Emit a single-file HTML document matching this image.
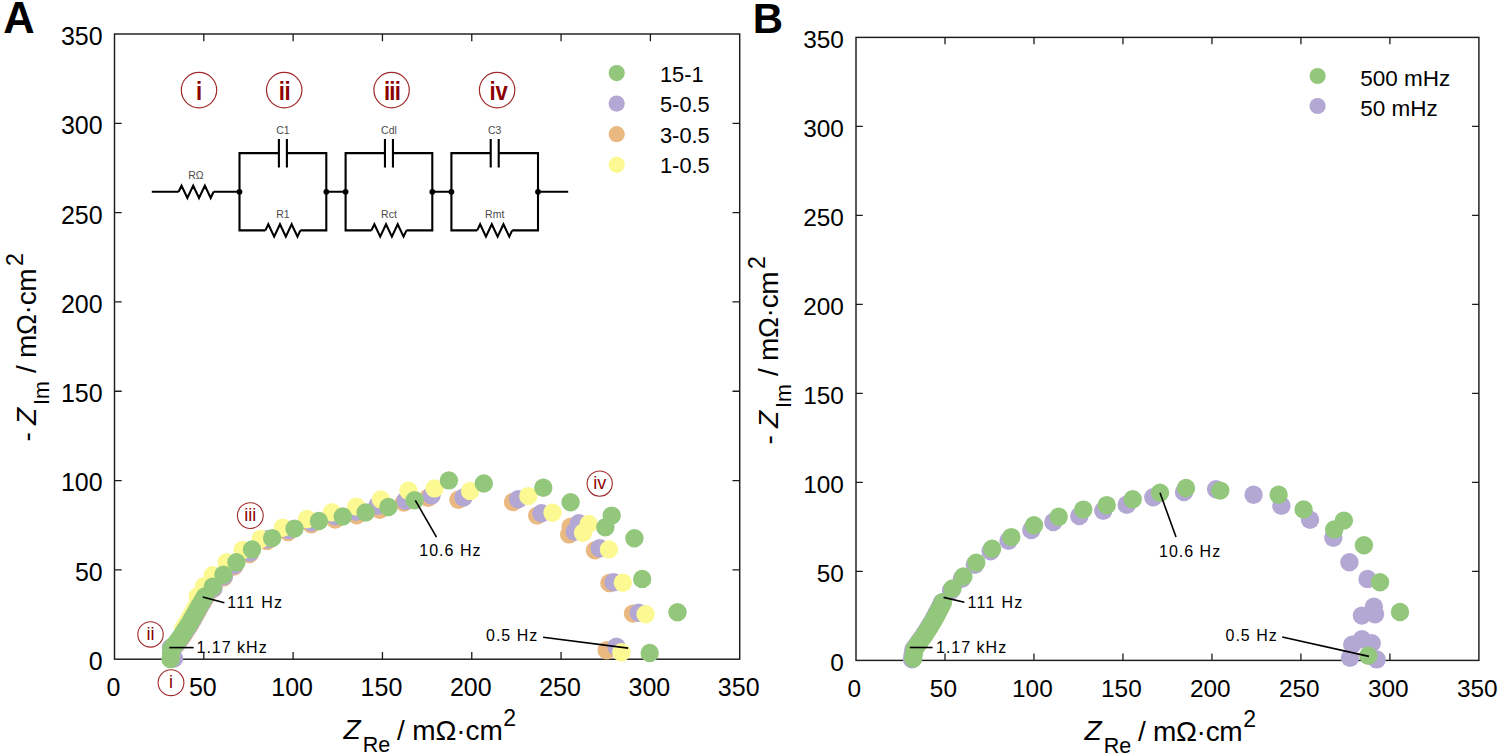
<!DOCTYPE html>
<html><head><meta charset="utf-8"><style>
html,body{margin:0;padding:0;background:#fff;}
svg{display:block;}
text{font-family:'Liberation Sans', sans-serif;}
</style></head><body>
<svg width="1500" height="756" viewBox="0 0 1500 756">
<rect width="1500" height="756" fill="#fff"/>
<rect x="114.5" y="34.0" width="625.2" height="625.2" fill="none" stroke="#1c1c1c" stroke-width="1.45"/>
<path d="M203.81 659.2V652.0M203.81 34.0V41.2M114.5 569.89H121.7M739.7 569.89H732.5" stroke="#1c1c1c" stroke-width="1.3"/>
<path d="M293.13 659.2V652.0M293.13 34.0V41.2M114.5 480.57H121.7M739.7 480.57H732.5" stroke="#1c1c1c" stroke-width="1.3"/>
<path d="M382.44 659.2V652.0M382.44 34.0V41.2M114.5 391.26H121.7M739.7 391.26H732.5" stroke="#1c1c1c" stroke-width="1.3"/>
<path d="M471.76 659.2V652.0M471.76 34.0V41.2M114.5 301.94H121.7M739.7 301.94H732.5" stroke="#1c1c1c" stroke-width="1.3"/>
<path d="M561.07 659.2V652.0M561.07 34.0V41.2M114.5 212.63H121.7M739.7 212.63H732.5" stroke="#1c1c1c" stroke-width="1.3"/>
<path d="M650.39 659.2V652.0M650.39 34.0V41.2M114.5 123.31H121.7M739.7 123.31H732.5" stroke="#1c1c1c" stroke-width="1.3"/>
<rect x="856.0" y="37.4" width="622.9000000000001" height="623.0" fill="none" stroke="#1c1c1c" stroke-width="1.45"/>
<path d="M944.99 660.4V653.6M944.99 37.4V44.199999999999996M856.0 571.40H862.8M1478.9 571.40H1472.1000000000001" stroke="#1c1c1c" stroke-width="1.3"/>
<path d="M1033.97 660.4V653.6M1033.97 37.4V44.199999999999996M856.0 482.40H862.8M1478.9 482.40H1472.1000000000001" stroke="#1c1c1c" stroke-width="1.3"/>
<path d="M1122.96 660.4V653.6M1122.96 37.4V44.199999999999996M856.0 393.40H862.8M1478.9 393.40H1472.1000000000001" stroke="#1c1c1c" stroke-width="1.3"/>
<path d="M1211.94 660.4V653.6M1211.94 37.4V44.199999999999996M856.0 304.40H862.8M1478.9 304.40H1472.1000000000001" stroke="#1c1c1c" stroke-width="1.3"/>
<path d="M1300.93 660.4V653.6M1300.93 37.4V44.199999999999996M856.0 215.40H862.8M1478.9 215.40H1472.1000000000001" stroke="#1c1c1c" stroke-width="1.3"/>
<path d="M1389.91 660.4V653.6M1389.91 37.4V44.199999999999996M856.0 126.40H862.8M1478.9 126.40H1472.1000000000001" stroke="#1c1c1c" stroke-width="1.3"/>
<text x="113.50" y="695.6" font-size="25" text-anchor="middle">0</text>
<text x="102.7" y="670.10" font-size="25" text-anchor="end">0</text>
<text x="202.81" y="695.6" font-size="25" text-anchor="middle">50</text>
<text x="102.7" y="580.79" font-size="25" text-anchor="end">50</text>
<text x="292.13" y="695.6" font-size="25" text-anchor="middle">100</text>
<text x="102.7" y="491.47" font-size="25" text-anchor="end">100</text>
<text x="381.44" y="695.6" font-size="25" text-anchor="middle">150</text>
<text x="102.7" y="402.16" font-size="25" text-anchor="end">150</text>
<text x="470.76" y="695.6" font-size="25" text-anchor="middle">200</text>
<text x="102.7" y="312.84" font-size="25" text-anchor="end">200</text>
<text x="560.07" y="695.6" font-size="25" text-anchor="middle">250</text>
<text x="102.7" y="223.53" font-size="25" text-anchor="end">250</text>
<text x="649.39" y="695.6" font-size="25" text-anchor="middle">300</text>
<text x="102.7" y="134.21" font-size="25" text-anchor="end">300</text>
<text x="738.70" y="695.6" font-size="25" text-anchor="middle">350</text>
<text x="102.7" y="44.90" font-size="25" text-anchor="end">350</text>
<text x="854.40" y="696.6" font-size="24.4" text-anchor="middle">0</text>
<text x="843.9" y="670.80" font-size="24.4" text-anchor="end">0</text>
<text x="943.39" y="696.6" font-size="24.4" text-anchor="middle">50</text>
<text x="843.9" y="581.80" font-size="24.4" text-anchor="end">50</text>
<text x="1032.37" y="696.6" font-size="24.4" text-anchor="middle">100</text>
<text x="843.9" y="492.80" font-size="24.4" text-anchor="end">100</text>
<text x="1121.36" y="696.6" font-size="24.4" text-anchor="middle">150</text>
<text x="843.9" y="403.80" font-size="24.4" text-anchor="end">150</text>
<text x="1210.34" y="696.6" font-size="24.4" text-anchor="middle">200</text>
<text x="843.9" y="314.80" font-size="24.4" text-anchor="end">200</text>
<text x="1299.33" y="696.6" font-size="24.4" text-anchor="middle">250</text>
<text x="843.9" y="225.80" font-size="24.4" text-anchor="end">250</text>
<text x="1388.31" y="696.6" font-size="24.4" text-anchor="middle">300</text>
<text x="843.9" y="136.80" font-size="24.4" text-anchor="end">300</text>
<text x="1477.30" y="696.6" font-size="24.4" text-anchor="middle">350</text>
<text x="843.9" y="47.80" font-size="24.4" text-anchor="end">350</text>
<text x="3.2" y="33.2" font-size="43.5" font-weight="bold">A</text>
<text x="752.8" y="32.5" font-size="42" font-weight="bold">B</text>
<text x="343.5" y="739.4" font-size="28" font-style="italic">Z</text>
<text x="362.7" y="752.1999999999999" font-size="21.5">Re</text>
<text x="397.0" y="740.0" font-size="28" letter-spacing="-0.12">/ mΩ·cm</text>
<text x="503.3" y="726.1999999999999" font-size="23">2</text>
<text x="1084.5" y="740.4" font-size="28" font-style="italic">Z</text>
<text x="1103.7" y="753.1999999999999" font-size="21.5">Re</text>
<text x="1138.0" y="741.0" font-size="28" letter-spacing="-0.3">/ mΩ·cm</text>
<text x="1243.3" y="727.1999999999999" font-size="23">2</text>
<g transform="translate(36.2 441.5) rotate(-90)"><text x="0" y="0" font-size="28">-</text><text x="16.5" y="0" font-size="28" font-style="italic">Z</text><text x="36.6" y="12.7" font-size="21.5">Im</text><text x="68.5" y="0" font-size="28" letter-spacing="-0.3">/ mΩ·cm</text><text x="175.5" y="-13.2" font-size="23">2</text></g>
<g transform="translate(778.2 444.5) rotate(-90)"><text x="0" y="0" font-size="28">-</text><text x="16.5" y="0" font-size="28" font-style="italic">Z</text><text x="36.6" y="12.7" font-size="21.5">Im</text><text x="68.5" y="0" font-size="28" letter-spacing="-0.3">/ mΩ·cm</text><text x="175.5" y="-13.2" font-size="23">2</text></g>
<g fill="#eab982"><circle cx="174.5" cy="646.7" r="9.2"/><circle cx="177.0" cy="643.7" r="9.2"/><circle cx="179.2" cy="640.7" r="9.2"/><circle cx="181.5" cy="637.7" r="9.2"/><circle cx="183.8" cy="634.2" r="9.2"/><circle cx="186.0" cy="630.7" r="9.2"/><circle cx="188.2" cy="627.4" r="9.2"/><circle cx="190.4" cy="624.0" r="9.2"/><circle cx="192.7" cy="619.9" r="9.2"/><circle cx="195.0" cy="615.7" r="9.2"/><circle cx="197.5" cy="611.2" r="9.2"/><circle cx="200.0" cy="606.7" r="9.2"/><circle cx="202.7" cy="602.2" r="9.2"/><circle cx="205.4" cy="597.7" r="9.2"/><circle cx="213.0" cy="589.0" r="9.2"/><circle cx="223.5" cy="577.5" r="9.2"/><circle cx="234.0" cy="566.5" r="9.2"/><circle cx="249.5" cy="554.0" r="9.2"/><circle cx="266.9" cy="540.9" r="9.2"/><circle cx="288.0" cy="532.0" r="9.2"/><circle cx="311.3" cy="524.2" r="9.2"/><circle cx="335.2" cy="519.5" r="9.2"/><circle cx="356.7" cy="515.3" r="9.2"/><circle cx="379.7" cy="509.8" r="9.2"/><circle cx="404.0" cy="502.6" r="9.2"/><circle cx="428.2" cy="497.7" r="9.2"/><circle cx="458.4" cy="499.8" r="9.2"/><circle cx="513.0" cy="502.1" r="9.2"/><circle cx="537.2" cy="515.6" r="9.2"/><circle cx="570.6" cy="526.7" r="9.2"/><circle cx="569.2" cy="534.4" r="9.2"/><circle cx="595.0" cy="550.3" r="9.2"/><circle cx="609.4" cy="583.0" r="9.2"/><circle cx="633.0" cy="613.6" r="9.2"/><circle cx="606.7" cy="650.3" r="9.2"/></g>
<g fill="#b3a8d3"><circle cx="174.0" cy="658.5" r="9.2"/><circle cx="171.0" cy="647.5" r="9.2"/><circle cx="174.3" cy="646.3" r="9.2"/><circle cx="176.8" cy="643.3" r="9.2"/><circle cx="179.1" cy="640.3" r="9.2"/><circle cx="181.3" cy="637.3" r="9.2"/><circle cx="183.6" cy="633.8" r="9.2"/><circle cx="185.8" cy="630.3" r="9.2"/><circle cx="188.0" cy="626.9" r="9.2"/><circle cx="190.2" cy="623.6" r="9.2"/><circle cx="192.5" cy="619.4" r="9.2"/><circle cx="194.8" cy="615.3" r="9.2"/><circle cx="197.3" cy="610.8" r="9.2"/><circle cx="199.8" cy="606.3" r="9.2"/><circle cx="202.5" cy="601.8" r="9.2"/><circle cx="205.2" cy="597.3" r="9.2"/><circle cx="213.5" cy="588.0" r="9.2"/><circle cx="224.0" cy="576.0" r="9.2"/><circle cx="234.5" cy="565.0" r="9.2"/><circle cx="250.0" cy="552.5" r="9.2"/><circle cx="267.5" cy="539.3" r="9.2"/><circle cx="288.5" cy="530.0" r="9.2"/><circle cx="311.5" cy="522.2" r="9.2"/><circle cx="335.5" cy="516.3" r="9.2"/><circle cx="355.9" cy="511.8" r="9.2"/><circle cx="377.3" cy="505.8" r="9.2"/><circle cx="405.5" cy="500.7" r="9.2"/><circle cx="431.5" cy="495.5" r="9.2"/><circle cx="463.5" cy="497.5" r="9.2"/><circle cx="518.2" cy="499.3" r="9.2"/><circle cx="541.4" cy="513.3" r="9.2"/><circle cx="578.9" cy="523.3" r="9.2"/><circle cx="574.7" cy="531.7" r="9.2"/><circle cx="599.7" cy="548.3" r="9.2"/><circle cx="613.6" cy="582.2" r="9.2"/><circle cx="638.6" cy="612.8" r="9.2"/><circle cx="616.4" cy="646.7" r="9.2"/></g>
<g fill="#fdf992"><circle cx="183.3" cy="628.5" r="9.2"/><circle cx="185.5" cy="625.1" r="9.2"/><circle cx="187.7" cy="621.8" r="9.2"/><circle cx="190.0" cy="617.6" r="9.2"/><circle cx="192.3" cy="613.5" r="9.2"/><circle cx="194.8" cy="609.0" r="9.2"/><circle cx="197.3" cy="604.5" r="9.2"/><circle cx="197.8" cy="596.2" r="9.2"/><circle cx="204.0" cy="586.3" r="9.2"/><circle cx="212.8" cy="575.2" r="9.2"/><circle cx="226.7" cy="562.2" r="9.2"/><circle cx="242.5" cy="550.0" r="9.2"/><circle cx="260.6" cy="538.9" r="9.2"/><circle cx="282.8" cy="527.8" r="9.2"/><circle cx="307.0" cy="519.0" r="9.2"/><circle cx="332.0" cy="512.3" r="9.2"/><circle cx="356.3" cy="506.6" r="9.2"/><circle cx="380.9" cy="499.4" r="9.2"/><circle cx="408.4" cy="490.7" r="9.2"/><circle cx="434.5" cy="488.4" r="9.2"/><circle cx="470.1" cy="490.9" r="9.2"/><circle cx="528.3" cy="496.1" r="9.2"/><circle cx="552.5" cy="512.8" r="9.2"/><circle cx="588.6" cy="523.9" r="9.2"/><circle cx="583.0" cy="532.8" r="9.2"/><circle cx="608.9" cy="549.4" r="9.2"/><circle cx="622.8" cy="582.8" r="9.2"/><circle cx="645.6" cy="614.2" r="9.2"/><circle cx="621.4" cy="652.3" r="9.2"/></g>
<g fill="#93c77b"><circle cx="170.5" cy="659.0" r="9.2"/><circle cx="171.0" cy="653.8" r="9.2"/><circle cx="171.5" cy="648.5" r="9.2"/><circle cx="174.0" cy="645.5" r="9.2"/><circle cx="176.5" cy="642.5" r="9.2"/><circle cx="178.8" cy="639.5" r="9.2"/><circle cx="181.0" cy="636.5" r="9.2"/><circle cx="183.2" cy="633.0" r="9.2"/><circle cx="185.5" cy="629.5" r="9.2"/><circle cx="187.7" cy="626.1" r="9.2"/><circle cx="189.9" cy="622.8" r="9.2"/><circle cx="192.2" cy="618.6" r="9.2"/><circle cx="194.5" cy="614.5" r="9.2"/><circle cx="197.0" cy="610.0" r="9.2"/><circle cx="199.5" cy="605.5" r="9.2"/><circle cx="202.2" cy="601.0" r="9.2"/><circle cx="204.9" cy="596.5" r="9.2"/><circle cx="212.8" cy="586.8" r="9.2"/><circle cx="223.4" cy="574.7" r="9.2"/><circle cx="236.4" cy="562.2" r="9.2"/><circle cx="252.0" cy="549.4" r="9.2"/><circle cx="272.1" cy="538.1" r="9.2"/><circle cx="294.5" cy="528.6" r="9.2"/><circle cx="318.9" cy="521.0" r="9.2"/><circle cx="342.7" cy="516.5" r="9.2"/><circle cx="365.6" cy="512.5" r="9.2"/><circle cx="388.4" cy="507.0" r="9.2"/><circle cx="414.6" cy="500.2" r="9.2"/><circle cx="448.9" cy="480.4" r="9.2"/><circle cx="483.8" cy="483.5" r="9.2"/><circle cx="543.3" cy="487.8" r="9.2"/><circle cx="570.6" cy="502.2" r="9.2"/><circle cx="611.7" cy="515.6" r="9.2"/><circle cx="605.3" cy="527.2" r="9.2"/><circle cx="634.4" cy="538.3" r="9.2"/><circle cx="642.2" cy="578.9" r="9.2"/><circle cx="677.5" cy="612.2" r="9.2"/><circle cx="649.7" cy="653.0" r="9.2"/></g>
<g fill="#b3a8d3"><circle cx="912.0" cy="659.3" r="9.2"/><circle cx="912.6" cy="654.5" r="9.2"/><circle cx="913.3" cy="649.8" r="9.2"/><circle cx="915.8" cy="646.3" r="9.2"/><circle cx="918.3" cy="642.8" r="9.2"/><circle cx="920.8" cy="639.3" r="9.2"/><circle cx="923.3" cy="635.8" r="9.2"/><circle cx="925.5" cy="632.3" r="9.2"/><circle cx="927.8" cy="628.8" r="9.2"/><circle cx="929.8" cy="625.5" r="9.2"/><circle cx="931.8" cy="622.3" r="9.2"/><circle cx="933.5" cy="619.0" r="9.2"/><circle cx="935.3" cy="615.8" r="9.2"/><circle cx="937.0" cy="612.5" r="9.2"/><circle cx="938.8" cy="609.3" r="9.2"/><circle cx="940.3" cy="606.0" r="9.2"/><circle cx="941.8" cy="602.8" r="9.2"/><circle cx="951.0" cy="590.6" r="9.2"/><circle cx="961.9" cy="578.7" r="9.2"/><circle cx="974.8" cy="564.8" r="9.2"/><circle cx="990.6" cy="551.3" r="9.2"/><circle cx="1008.5" cy="540.8" r="9.2"/><circle cx="1031.3" cy="530.0" r="9.2"/><circle cx="1053.3" cy="522.0" r="9.2"/><circle cx="1079.3" cy="516.0" r="9.2"/><circle cx="1103.3" cy="510.7" r="9.2"/><circle cx="1126.7" cy="504.7" r="9.2"/><circle cx="1153.3" cy="497.3" r="9.2"/><circle cx="1184.0" cy="492.0" r="9.2"/><circle cx="1216.1" cy="489.2" r="9.2"/><circle cx="1253.6" cy="494.7" r="9.2"/><circle cx="1281.4" cy="505.8" r="9.2"/><circle cx="1310.0" cy="519.7" r="9.2"/><circle cx="1333.3" cy="537.8" r="9.2"/><circle cx="1349.4" cy="562.2" r="9.2"/><circle cx="1367.5" cy="578.9" r="9.2"/><circle cx="1373.9" cy="606.7" r="9.2"/><circle cx="1375.0" cy="614.2" r="9.2"/><circle cx="1361.9" cy="615.6" r="9.2"/><circle cx="1361.9" cy="639.2" r="9.2"/><circle cx="1352.2" cy="644.7" r="9.2"/><circle cx="1371.7" cy="643.3" r="9.2"/><circle cx="1350.0" cy="657.8" r="9.2"/><circle cx="1376.7" cy="659.4" r="9.2"/></g>
<g fill="#93c77b"><circle cx="913.2" cy="658.5" r="9.2"/><circle cx="913.9" cy="653.8" r="9.2"/><circle cx="914.5" cy="649.0" r="9.2"/><circle cx="917.0" cy="645.5" r="9.2"/><circle cx="919.5" cy="642.0" r="9.2"/><circle cx="922.0" cy="638.5" r="9.2"/><circle cx="924.5" cy="635.0" r="9.2"/><circle cx="926.8" cy="631.5" r="9.2"/><circle cx="929.0" cy="628.0" r="9.2"/><circle cx="931.0" cy="624.8" r="9.2"/><circle cx="933.0" cy="621.5" r="9.2"/><circle cx="934.8" cy="618.2" r="9.2"/><circle cx="936.5" cy="615.0" r="9.2"/><circle cx="938.2" cy="611.8" r="9.2"/><circle cx="940.0" cy="608.5" r="9.2"/><circle cx="941.5" cy="605.2" r="9.2"/><circle cx="943.0" cy="602.0" r="9.2"/><circle cx="952.5" cy="588.4" r="9.2"/><circle cx="963.4" cy="576.5" r="9.2"/><circle cx="976.3" cy="562.6" r="9.2"/><circle cx="992.1" cy="548.8" r="9.2"/><circle cx="1011.3" cy="537.1" r="9.2"/><circle cx="1034.0" cy="525.3" r="9.2"/><circle cx="1058.7" cy="516.7" r="9.2"/><circle cx="1083.3" cy="509.6" r="9.2"/><circle cx="1106.7" cy="505.1" r="9.2"/><circle cx="1132.7" cy="499.3" r="9.2"/><circle cx="1160.0" cy="492.7" r="9.2"/><circle cx="1186.0" cy="488.0" r="9.2"/><circle cx="1220.3" cy="490.6" r="9.2"/><circle cx="1278.6" cy="494.7" r="9.2"/><circle cx="1303.6" cy="509.4" r="9.2"/><circle cx="1343.9" cy="520.6" r="9.2"/><circle cx="1334.2" cy="529.4" r="9.2"/><circle cx="1363.9" cy="545.3" r="9.2"/><circle cx="1380.0" cy="582.2" r="9.2"/><circle cx="1400.0" cy="612.0" r="9.2"/><circle cx="1368.3" cy="655.8" r="9.2"/></g>
<path d="M169.3 647.6L193.6 647.6" stroke="#000" stroke-width="1.6"/>
<text x="196.5" y="653" font-size="16" letter-spacing="1" text-anchor="start">1.17 kHz</text>
<path d="M202.7 596.9L224.4 602.8" stroke="#000" stroke-width="1.6"/>
<text x="227.2" y="608" font-size="16" letter-spacing="1.3" text-anchor="start">111 Hz</text>
<path d="M415.3 500.3L436.5 537.1" stroke="#000" stroke-width="1.6"/>
<text x="419.3" y="556.2" font-size="16" letter-spacing="1" text-anchor="start">10.6 Hz</text>
<path d="M628.2 648.1L543.1 637.2" stroke="#000" stroke-width="1.6"/>
<text x="486" y="641.2" font-size="16" letter-spacing="1" text-anchor="start">0.5 Hz</text>
<path d="M909.8 647.5L932.6 647.5" stroke="#000" stroke-width="1.6"/>
<text x="936" y="653" font-size="16" letter-spacing="1" text-anchor="start">1.17 kHz</text>
<path d="M943.6 597.4L964.4 602.3" stroke="#000" stroke-width="1.6"/>
<text x="967.5" y="608" font-size="16" letter-spacing="1.3" text-anchor="start">111 Hz</text>
<path d="M1160 492.7L1176 537" stroke="#000" stroke-width="1.6"/>
<text x="1159" y="557" font-size="16" letter-spacing="1" text-anchor="start">10.6 Hz</text>
<path d="M1368.9 656.4L1282.2 637" stroke="#000" stroke-width="1.6"/>
<text x="1225.5" y="641" font-size="16" letter-spacing="1" text-anchor="start">0.5 Hz</text>
<circle cx="199" cy="90.1" r="17.7" fill="none" stroke="#a02a2a" stroke-width="1.2"/>
<text transform="translate(199 0) scale(0.85 1)" x="0.00" y="100.2" font-size="26" font-weight="bold" fill="#8b0000" text-anchor="middle" letter-spacing="0">i</text>
<circle cx="284.2" cy="90.1" r="17.7" fill="none" stroke="#a02a2a" stroke-width="1.2"/>
<text transform="translate(284.2 0) scale(0.85 1)" x="0.25" y="100.2" font-size="26" font-weight="bold" fill="#8b0000" text-anchor="middle" letter-spacing="-0.5">ii</text>
<circle cx="391.6" cy="90.1" r="17.7" fill="none" stroke="#a02a2a" stroke-width="1.2"/>
<text transform="translate(391.6 0) scale(0.85 1)" x="0.45" y="100.2" font-size="26" font-weight="bold" fill="#8b0000" text-anchor="middle" letter-spacing="-0.9">iii</text>
<circle cx="497.1" cy="90.1" r="17.7" fill="none" stroke="#a02a2a" stroke-width="1.2"/>
<text transform="translate(497.1 0) scale(0.85 1)" x="1.80" y="100.2" font-size="26" font-weight="bold" fill="#8b0000" text-anchor="middle" letter-spacing="0">iv</text>
<circle cx="171" cy="682.7" r="12.9" fill="none" stroke="#a02a2a" stroke-width="1.1"/>
<text x="171" y="688.3" font-size="18" font-weight="normal" fill="#8b0000" text-anchor="middle">i</text>
<circle cx="150.5" cy="634.4" r="12.7" fill="none" stroke="#a02a2a" stroke-width="1.1"/>
<text x="150.5" y="640.0" font-size="18" font-weight="normal" fill="#8b0000" text-anchor="middle">ii</text>
<circle cx="250.3" cy="515.6" r="12.9" fill="none" stroke="#a02a2a" stroke-width="1.1"/>
<text x="250.3" y="521.2" font-size="18" font-weight="normal" fill="#8b0000" text-anchor="middle">iii</text>
<circle cx="599.7" cy="483.6" r="12.6" fill="none" stroke="#a02a2a" stroke-width="1.1"/>
<text x="599.7" y="489.2" font-size="18" font-weight="normal" fill="#8b0000" text-anchor="middle">iv</text>
<text x="282.9" y="134.3" font-size="10.5" fill="#4a4a4a" text-anchor="middle">C1</text>
<text x="282.9" y="217.5" font-size="10.5" fill="#4a4a4a" text-anchor="middle">R1</text>
<text x="388.95000000000005" y="134.3" font-size="10.5" fill="#4a4a4a" text-anchor="middle">Cdl</text>
<text x="388.95000000000005" y="217.5" font-size="10.5" fill="#4a4a4a" text-anchor="middle">Rct</text>
<text x="494.7" y="134.3" font-size="10.5" fill="#4a4a4a" text-anchor="middle">C3</text>
<text x="494.7" y="217.5" font-size="10.5" fill="#4a4a4a" text-anchor="middle">Rmt</text>
<path d="M151.8 191.8H178.6 M178.60 191.80 L181.52 185.60 L187.35 198.00 L193.18 185.60 L199.02 198.00 L204.85 185.60 L210.68 198.00 L213.60 191.80 M213.6 191.8H239.5 M278.9 153.1H239.5V230.4H265.4 M265.40 230.40 L268.32 224.20 L274.15 236.60 L279.98 224.20 L285.82 236.60 L291.65 224.20 L297.48 236.60 L300.40 230.40 M300.4 230.4H326.3V153.1H286.9 M278.9 139V167.5M286.9 139V167.5 M326.3 191.8H345.6 M384.95000000000005 153.1H345.6V230.4H371.45000000000005 M371.45 230.40 L374.37 224.20 L380.20 236.60 L386.03 224.20 L391.87 236.60 L397.70 224.20 L403.53 236.60 L406.45 230.40 M406.45000000000005 230.4H432.3V153.1H392.95000000000005 M384.95000000000005 139V167.5M392.95000000000005 139V167.5 M432.3 191.8H451.4 M490.7 153.1H451.4V230.4H477.2 M477.20 230.40 L480.12 224.20 L485.95 236.60 L491.78 224.20 L497.62 236.60 L503.45 224.20 L509.28 236.60 L512.20 230.40 M512.2 230.4H538.0V153.1H498.7 M490.7 139V167.5M498.7 139V167.5 M538 191.8H568.2" stroke="#000" stroke-width="2.1" fill="none"/>
<text x="196" y="178.6" font-size="10.5" fill="#4a4a4a" text-anchor="middle">RΩ</text>
<circle cx="239.5" cy="191.8" r="2.9" fill="#000"/>
<circle cx="326.3" cy="191.8" r="2.9" fill="#000"/>
<circle cx="345.6" cy="191.8" r="2.9" fill="#000"/>
<circle cx="432.3" cy="191.8" r="2.9" fill="#000"/>
<circle cx="451.4" cy="191.8" r="2.9" fill="#000"/>
<circle cx="538.0" cy="191.8" r="2.9" fill="#000"/>
<circle cx="616.7" cy="73.1" r="8.1" fill="#93c77b"/>
<text x="660" y="81.8" font-size="21.8">15-1</text>
<circle cx="616.7" cy="103.6" r="8.1" fill="#b3a8d3"/>
<text x="660" y="112.3" font-size="21.8">5-0.5</text>
<circle cx="616.7" cy="134.2" r="8.1" fill="#eab982"/>
<text x="660" y="142.9" font-size="21.8">3-0.5</text>
<circle cx="616.7" cy="164.8" r="8.1" fill="#fdf992"/>
<text x="660" y="173.4" font-size="21.8">1-0.5</text>
<circle cx="1317.6" cy="76.0" r="8.1" fill="#93c77b"/>
<text x="1360.2" y="85.5" font-size="22.5">500 mHz</text>
<circle cx="1317.6" cy="106.0" r="8.1" fill="#b3a8d3"/>
<text x="1360.2" y="115.5" font-size="22.5">50 mHz</text>
</svg></body></html>
